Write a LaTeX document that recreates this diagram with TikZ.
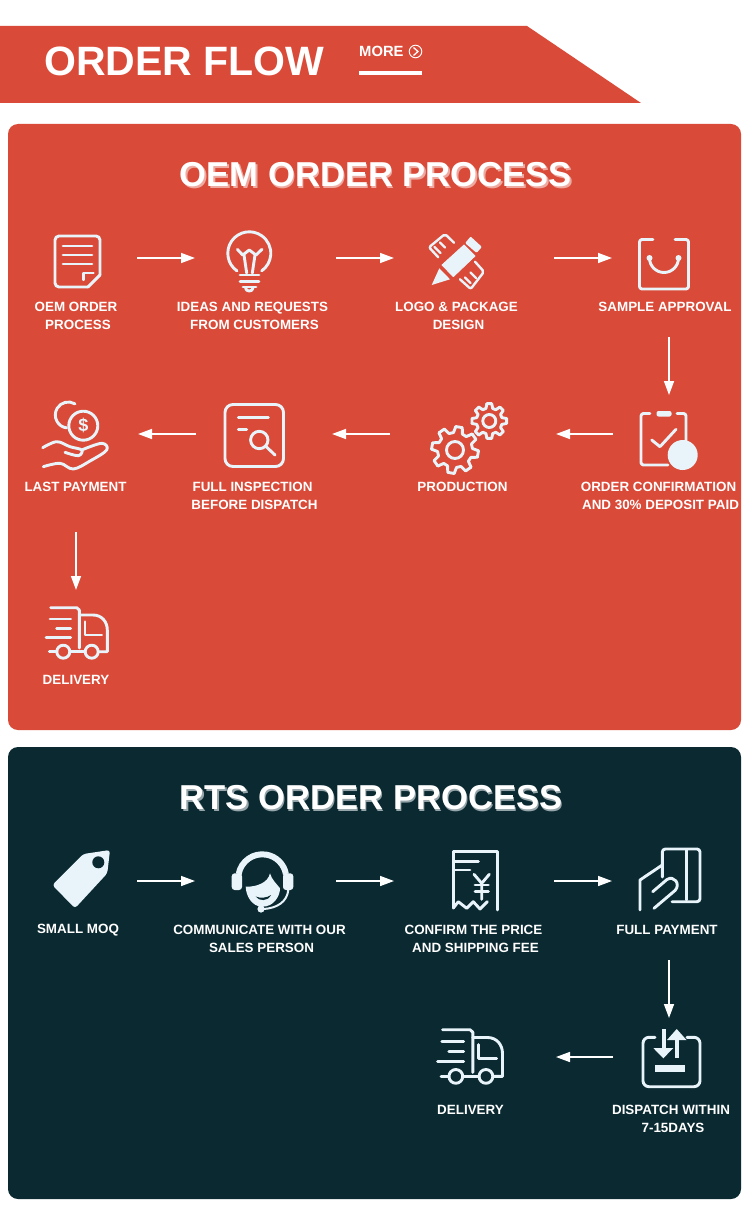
\documentclass[tikz,border=0pt]{standalone}
\usepackage{fontspec}
\setmainfont{Liberation Sans}
\usetikzlibrary{arrows.meta}
\definecolor{brandred}{RGB}{218,74,56}
\definecolor{brandnavy}{RGB}{10,41,49}
\definecolor{ice}{RGB}{232,244,250}
\definecolor{shadowred}{RGB}{238,170,160}
\definecolor{shadownavy}{RGB}{150,165,170}
\newcommand\nl{\\\hspace*{4pt}}
\tikzset{
  ic/.style={draw=ice,line width=2.9pt,line cap=round,line join=round},
  icf/.style={fill=ice,draw=ice,line width=0.8pt,line join=round},
  hub/.style={inner sep=0pt,outer sep=0pt},
  lab/.style={inner sep=0pt,text=white,align=center,font=\bfseries\fontsize{13.4}{18}\selectfont},
  ttl/.style={inner sep=0pt,anchor=base,font=\bfseries\fontsize{34.6}{40}\selectfont},
  arr/.style={draw=white,line width=1.5pt,-{Triangle[length=14pt,width=10pt]}}
}
\newcommand\gearicon[5]{%
  \begin{scope}[shift={(#1,#2)},rotate=#5]
    \foreach \a in {0,45,...,315}{
      \draw[ic] ({\a-8}:#3) -- ({\a+8}:#3) -- ({\a+15}:#4) -- ({\a+30}:#4) -- ({\a+37}:#3);
    }
  \end{scope}}
\newcommand\truckicon[2]{%
  \begin{scope}[shift={#1},scale=#2]
    \draw[ic] (4.7,0.7) -- (30.7,0.7) -- (33.3,3) -- (33.3,41);
    \draw[ic] (33.3,8) -- (47,8) .. controls (56,8) and (61.3,15) .. (61.3,23) -- (61.3,44.7) -- (52.3,44.7);
    \draw[ic] (3.3,44.7) -- (10.8,44.7);
    \draw[ic] (24,44.7) -- (39,44.7);
    \draw[ic] (4,12) -- (24.7,12);
    \draw[ic] (10.7,21.3) -- (24.7,21.3);
    \draw[ic] (0,30.3) -- (24.7,30.3);
    \draw[ic] (39,14.7) -- (39,28) -- (55.7,28);
    \draw[ic] (17.3,44.7) circle (6.5);
    \draw[ic] (45.7,44.7) circle (6.5);
  \end{scope}}
\begin{document}
\begin{tikzpicture}[x=1pt,y=1pt,yscale=-1]
\useasboundingbox (0,0) rectangle (750,1217);
\fill[white] (0,0) rectangle (750,1217);

% header
\fill[brandred] (0,26) -- (527,26) -- (641,103) -- (0,103) -- cycle;
\node[inner sep=0pt,anchor=base west,text=white,font=\bfseries\fontsize{41}{46}\selectfont] (flowtitle) at (44,75.5) {ORDER FLOW};
\node[inner sep=0pt,anchor=base west,text=white,font=\bfseries\fontsize{14.8}{18}\selectfont] (more) at (359,57) {MORE};
\draw[white,line width=0.9pt] (415.5,51.5) circle (6.3);
\draw[white,line width=1.3pt] (413.5,47.5) -- (418,51.5) -- (413.5,55.5);
\fill[white] (359,71) rectangle (422,75);

% panels
\fill[brandred,rounded corners=10pt] (8,124) rectangle (741,730);
\fill[brandnavy,rounded corners=10pt] (8,747) rectangle (741,1199);

% titles
\node[ttl,text=shadowred] (oemshade) at (377.5,188.5) {OEM ORDER PROCESS};
\node[ttl,text=white] (oemtitle) at (376,186) {OEM ORDER PROCESS};
\node[ttl,text=shadownavy] (rtsshade) at (372.5,811.5) {RTS ORDER PROCESS};
\node[ttl,text=white] (rtstitle) at (371,809) {RTS ORDER PROCESS};

% layout hubs for connectors (OEM)
\node[hub,minimum width=118pt,minimum height=80pt] (o1) at (78,258) {};
\node[hub,minimum width=141pt,minimum height=80pt] (o2) at (265.5,258) {};
\node[hub,minimum width=160pt,minimum height=80pt] (o3) at (474,258) {};
\node[hub,minimum width=114pt,minimum height=158pt] (o4) at (669,258) {};
\node[hub,minimum width=112pt,minimum height=78pt] (o5) at (669,434) {};
\node[hub,minimum width=166pt,minimum height=78pt] (o6) at (473,434) {};
\node[hub,minimum width=136pt,minimum height=78pt] (o7) at (264,434) {};
\node[hub,minimum width=124pt,minimum height=196pt] (o8) at (76,434) {};
\node[hub,minimum width=80pt,minimum height=88pt] (o9) at (76,634) {};
\draw[arr] (o1) -- (o2);
\draw[arr] (o2) -- (o3);
\draw[arr] (o3) -- (o4);
\draw[arr] (o4) -- (o5);
\draw[arr] (o5) -- (o6);
\draw[arr] (o6) -- (o7);
\draw[arr] (o7) -- (o8);
\draw[arr] (o8) -- (o9);

% hubs (RTS)
\node[hub,minimum width=118pt,minimum height=80pt] (r1) at (78,881) {};
\node[hub,minimum width=141pt,minimum height=80pt] (r2) at (265.5,881) {};
\node[hub,minimum width=160pt,minimum height=80pt] (r3) at (474,881) {};
\node[hub,minimum width=114pt,minimum height=158pt] (r4) at (669,881) {};
\node[hub,minimum width=112pt,minimum height=78pt] (r5) at (669,1057) {};
\node[hub,minimum width=172pt,minimum height=78pt] (r6) at (470,1057) {};
\draw[arr] (r1) -- (r2);
\draw[arr] (r2) -- (r3);
\draw[arr] (r3) -- (r4);
\draw[arr] (r4) -- (r5);
\draw[arr] (r5) -- (r6);

% labels OEM
\node[lab] (lo1) at (76,316) {OEM ORDER\nl PROCESS};
\node[lab] (lo2) at (252.5,316) {IDEAS AND REQUESTS\nl FROM CUSTOMERS};
\node[lab] (lo3) at (456.5,316) {LOGO \& PACKAGE\nl DESIGN};
\node[lab] (lo4) at (665,307) {SAMPLE APPROVAL};
\node[lab] (lo5) at (658.5,496) {ORDER CONFIRMATION\nl AND 30\% DEPOSIT PAID};
\node[lab] (lo6) at (462.5,487) {PRODUCTION};
\node[lab] (lo7) at (252.5,496) {FULL INSPECTION\nl BEFORE DISPATCH};
\node[lab] (lo8) at (75.5,487) {LAST PAYMENT};
\node[lab] (lo9) at (76,680) {DELIVERY};
% labels RTS
\node[lab] (lr1) at (78,930) {SMALL MOQ};
\node[lab] (lr2) at (259.5,939) {COMMUNICATE WITH OUR\nl SALES PERSON};
\node[lab] (lr3) at (473.5,939) {CONFIRM THE PRICE\nl AND SHIPPING FEE};
\node[lab] (lr4) at (667,930) {FULL PAYMENT};
\node[lab] (lr5) at (671,1119) {DISPATCH WITHIN\nl 7-15DAYS};
\node[lab] (lr6) at (470.5,1110) {DELIVERY};

% icon: document
\draw[ic,rounded corners=4pt] (88,287) -- (55,287) -- (55,236) -- (100,236) -- (100,275);
\draw[ic] (100,275) -- (88,287);
\draw[ic] (63,246) -- (92,246) (63,255) -- (92,255) (63,264) -- (92,264);
\draw[ic,line width=2.2pt] (83.5,280) -- (83.5,273) -- (93.5,273);

% icon: bulb
\draw[ic] (249.3,253.3) ++(125:21.5) arc (125:415:21.5);
\draw[ic] (237.3,249.3) -- (242.7,255) -- (249.3,250) -- (256,255) -- (262,249.3);
\draw[ic] (244,255) -- (246.7,273) (255,255) -- (252.3,273);
\draw[ic] (240,275) -- (259,275) (240,281.5) -- (259,281.5) (243,287) -- (256,287);
\draw[ic] (245.5,288) .. controls (246,292) and (252.5,292) .. (253,288);

% icon: pencil and ruler
\fill[ice] (431.7,285) -- (439.3,268.3) -- (450,279.3) -- cycle;
\draw[icf] (442,265) -- (464,245) -- (475,256) -- (453.3,276.7) -- cycle;
\draw[icf,line width=2pt] (466.5,243) -- (470.7,238) -- (480.5,247) -- (476.5,251.5) -- cycle;
\draw[ic,line width=2.4pt,rounded corners=2pt] (454,242.7) -- (445,234) -- (429,247.3) -- (438.3,257.3);
\draw[ic,line width=2.4pt] (434.5,247) -- (440.5,253) (440,242.5) -- (445,247.5);
\draw[ic,line width=2.4pt,rounded corners=2pt] (475,261.7) -- (484,271.7) -- (470.7,289) -- (460,279.3);
\draw[ic,line width=2.4pt] (465,277.5) -- (470.5,283) (470.5,272.5) -- (476,278);

% icon: bag
\draw[ic,rounded corners=2.5pt] (653,239.5) -- (639.5,239.5) -- (639.5,289) -- (688.5,289) -- (688.5,239.5) -- (675,239.5);
\draw[ic] (649.5,258) arc (180:0:14.5);
\fill[ice] (649.5,258) circle (3) (678.5,258) circle (3);

% icon: clipboard
\draw[ic,rounded corners=2.5pt] (650,413.5) -- (641,413.5) -- (641,465) -- (668,465);
\draw[ic,rounded corners=2.5pt] (677,413.5) -- (686,413.5) -- (686,442);
\fill[ice,rounded corners=2pt] (656.5,411) rectangle (671.5,416.5);
\draw[ic] (651.7,440) -- (660,446.7) -- (676,429.3);
\fill[ice] (682.7,455) circle (15);

% icon: gears
\gearicon{455}{450}{23.5}{17.5}{10}
\draw[ic] (455,450) circle (8.5);
\gearicon{489.3}{421}{17.5}{13}{0}
\draw[ic] (489.3,421) circle (6.5);

% icon: inspection
\draw[ic,rounded corners=8pt] (225,404.5) rectangle (283.5,466.5);
\draw[ic] (238.3,417.3) -- (268.3,417.3) (238.3,429.7) -- (246.7,429.7);
\draw[ic] (259.3,440) circle (8.7);
\draw[ic] (266,446.5) -- (275,455);

% icon: coin in hand
\draw[ic] (83.3,425.7) circle (14.5);
\draw[ic] (68.3,415) ++(-59:13) arc (-59:-262:13);
\node[hub,text=ice,font=\bfseries\fontsize{18}{18}\selectfont] (dollar) at (83.3,425.7) {\$};
\draw[ic] plot[smooth,tension=0.6] coordinates {(42.7,447.7) (56.7,441.7) (70,446.7) (81.7,450) (78.3,455.7) (65,452.3)};
\draw[ic] plot[smooth,tension=0.6] coordinates {(81.7,450) (101.7,443.3) (106.7,450) (90,461) (73.3,469) (60,463.3) (43.3,466.7)};

% icons: delivery
\truckicon{(46,607)}{1}
\truckicon{(437.5,1029)}{1.06}

% icon: tag
\fill[ice,rounded corners=3pt] (83.3,854) -- (110,850) -- (107.3,873.3) -- (75,908.3) -- (52.3,885) -- cycle;
\fill[brandnavy] (98.3,862.3) circle (6);

% icon: headset
\draw[ic,line width=6pt,line cap=butt] (262.3,878.3) ++(190:24) arc (190:350:24);
\fill[ice,rounded corners=3pt] (231.7,873.3) rectangle (242,890);
\fill[ice,rounded corners=3pt] (283,873.3) rectangle (293.3,890);
\fill[ice] (245.7,886.7) .. controls (256,887) and (268,883) .. (270,873.3)
  .. controls (272,880) and (276,883) .. (280,888.3)
  .. controls (280,896) and (274,906.7) .. (262.3,906.7)
  .. controls (252,906.7) and (246,896) .. (245.7,886.7) -- cycle;
\fill[brandnavy] (255.7,896.5) .. controls (259,901.5) and (268,901.5) .. (271,895)
  .. controls (267,898) and (260,898.5) .. (255.7,896.5) -- cycle;
\draw[ic,line width=2pt] (288.3,890) .. controls (287,902) and (277,908) .. (264,909);
\fill[ice] (261,909) circle (3.6);

% icon: receipt
\draw[ic] (453.3,908) -- (453.3,851.7) -- (497.3,851.7) -- (497.3,910);
\draw[ic] (453.3,908) -- (458.3,901.7) -- (466.7,908.3) -- (473.3,901.7) -- (480,909) -- (487.3,901.7);
\draw[ic] (455,861.7) -- (478.3,861.7) (455,870) -- (470,870);
\draw[ic] (474,874.3) -- (481.7,883.3) -- (489.3,874.3) (481.7,883.3) -- (481.7,899.3);
\draw[ic] (475,885) -- (488.3,885) (475,891.7) -- (488.3,891.7);

% icon: card
\draw[ic,rounded corners=3pt] (662.3,877) -- (662.3,849) -- (700,849) -- (700,901.7) -- (672,901.7);
\draw[ic] (686.7,850) -- (686.7,900);
\draw[ic] (640,910) -- (640,880) -- (662.3,865);
\draw[ic] (652.7,891.7) -- (667,879.5) .. controls (674,875) and (681,884) .. (675,890.5) -- (654,908.3);

% icon: dispatch
\draw[ic,rounded corners=6pt] (655,1037.3) -- (643,1037.3) -- (643,1086.7) -- (700,1086.7) -- (700,1037.3) -- (687,1037.3);
\fill[ice] (661.5,1029) rectangle (665.5,1049);
\fill[ice] (653.3,1048) -- (673.3,1048) -- (663.3,1058.3) -- cycle;
\fill[ice] (674.7,1038) rectangle (678.7,1058.3);
\fill[ice] (676.7,1029) -- (686.5,1040) -- (667,1040) -- cycle;
\fill[ice] (655,1065) rectangle (685,1071.7);
\end{tikzpicture}
\end{document}
